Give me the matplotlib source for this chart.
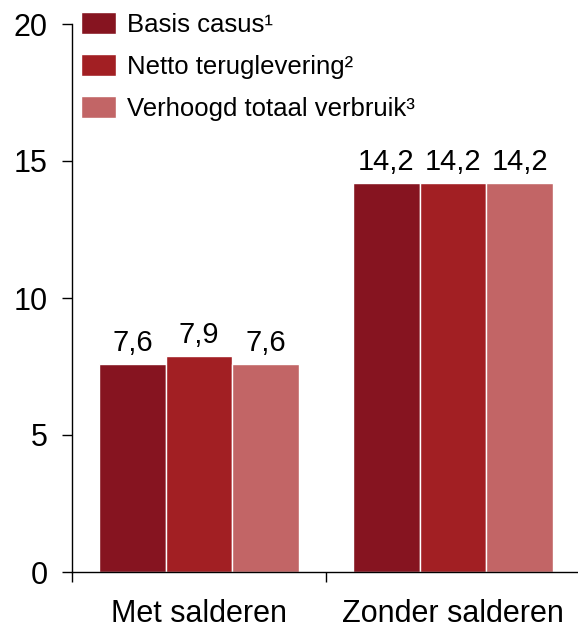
import matplotlib
matplotlib.use("Agg")
import matplotlib.pyplot as plt
import numpy as np

plt.rcParams['font.family'] = ['Liberation Sans', 'DejaVu Sans']

categories = ["Met salderen", "Zonder salderen"]
series_names = ["Basis casus¹", "Netto teruglevering²", "Verhoogd totaal verbruik³"]
values = {
    "Basis casus¹": [7.6, 14.2],
    "Netto teruglevering²": [7.9, 14.2],
    "Verhoogd totaal verbruik³": [7.6, 14.2],
}
colors = ["#861420", "#A21F23", "#C26566"]
yticks = [0, 5, 10, 15, 20]

fig = plt.figure(figsize=(5.78, 6.31), dpi=100)
ax = fig.add_axes([72 / 578, 59 / 631, 508 / 578, 548 / 631])

centers = np.arange(len(categories)) + 0.5
bar_w = 0.2625
for i, name in enumerate(series_names):
    xs = centers + (i - 1) * bar_w
    ax.bar(xs, values[name], width=bar_w, color=colors[i],
           edgecolor="white", linewidth=1.0, label=name)
    for x, v in zip(xs, values[name]):
        ax.text(x, v + 0.25, f"{v:.1f}".replace(".", ","), ha="center",
                va="bottom", fontsize=21)

ax.set_xlim(0, 2)
ax.set_ylim(0, 20)
ax.set_yticks(yticks)
ax.set_yticklabels([str(t) for t in yticks])
ax.tick_params(axis="y", length=7, width=1, pad=10.5, labelsize=22)

ax.set_xticks([0, 1, 2])
ax.set_xticklabels([])
ax.set_xticks(centers, minor=True)
ax.set_xticklabels(categories, minor=True)
ax.tick_params(axis="x", which="major", length=7, width=1)
ax.tick_params(axis="x", which="minor", length=0, pad=19.5, labelsize=22)

for s in ["top", "right"]:
    ax.spines[s].set_visible(False)
for s in ["left", "bottom"]:
    ax.spines[s].set_linewidth(1)

ax.legend(loc="upper left", bbox_to_anchor=(-0.018, 1.055), frameon=False,
          fontsize=18.5, handlelength=1.36, handleheight=0.94,
          handletextpad=0.43, labelspacing=0.68, borderaxespad=0.3)

fig.savefig("out.png", dpi=100)
